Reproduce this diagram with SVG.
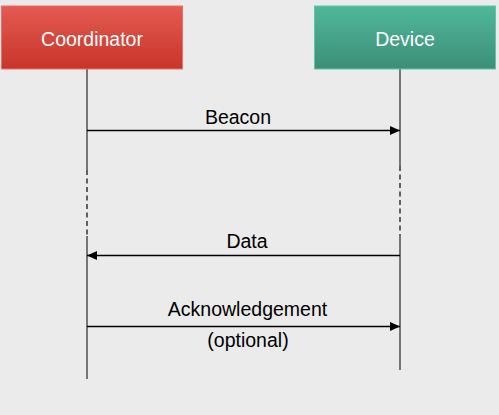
<svg xmlns="http://www.w3.org/2000/svg" width="499" height="415" viewBox="0 0 499 415">
<defs>
<linearGradient id="gRed" x1="0" y1="0" x2="0" y2="1">
<stop offset="0" stop-color="#e35b51"/>
<stop offset="1" stop-color="#c8342a"/>
</linearGradient>
<linearGradient id="gGreen" x1="0" y1="0" x2="0" y2="1">
<stop offset="0" stop-color="#50b79a"/>
<stop offset="1" stop-color="#3c8f77"/>
</linearGradient>
<marker id="arr" markerWidth="10" markerHeight="10" viewBox="0 0 10 10" refX="10" refY="5" orient="auto" markerUnits="userSpaceOnUse">
<path d="M0,0.5 L10,5 L0,9.5 Z" fill="#000"/>
</marker>
<style>
.lbl{font-family:"Liberation Sans",Arial,sans-serif;font-size:19.5px;fill:#000;text-anchor:middle}
.hdr{font-family:"Liberation Sans",Arial,sans-serif;font-size:19.5px;fill:#fff;text-anchor:middle}
.life{stroke:#444;stroke-width:1.4;fill:none}
.dash{stroke:#333;stroke-width:1.5;fill:none;stroke-dasharray:5 3.5}
.msg{stroke:#000;stroke-width:1.3;fill:none;marker-end:url(#arr)}
</style>
</defs>
<rect width="499" height="415" fill="#ebebeb"/>
<g id="lifelines">
<line class="life" x1="87" y1="69" x2="87" y2="170"/>
<line class="dash" x1="87" y1="170" x2="87" y2="236"/>
<line class="life" x1="87" y1="236" x2="87" y2="379"/>
<line class="life" x1="400" y1="69" x2="400" y2="166"/>
<line class="dash" x1="400" y1="166" x2="400" y2="235"/>
<line class="life" x1="400" y1="235" x2="400" y2="370"/>
</g>
<g id="coordinator">
<rect x="1.5" y="6" width="181" height="63" fill="url(#gRed)" stroke="#ef6e66" stroke-width="1"/>
<text class="hdr" x="92" y="45.5">Coordinator</text>
</g>
<g id="device">
<rect x="314.5" y="6" width="181" height="63" fill="url(#gGreen)" stroke="#5fc7a9" stroke-width="1"/>
<text class="hdr" x="405" y="45.5">Device</text>
</g>
<g id="connectors">
<line class="msg" x1="87" y1="130.5" x2="400" y2="130.5"/>
<line class="msg" x1="400" y1="255.5" x2="87" y2="255.5"/>
<line class="msg" x1="87" y1="326.5" x2="400" y2="326.5"/>
<text class="lbl" x="238" y="123.5">Beacon</text>
<text class="lbl" x="247" y="247.5">Data</text>
<text class="lbl" x="247.5" y="316">Acknowledgement</text>
<text class="lbl" x="248" y="346.5">(optional)</text>
</g>
</svg>
